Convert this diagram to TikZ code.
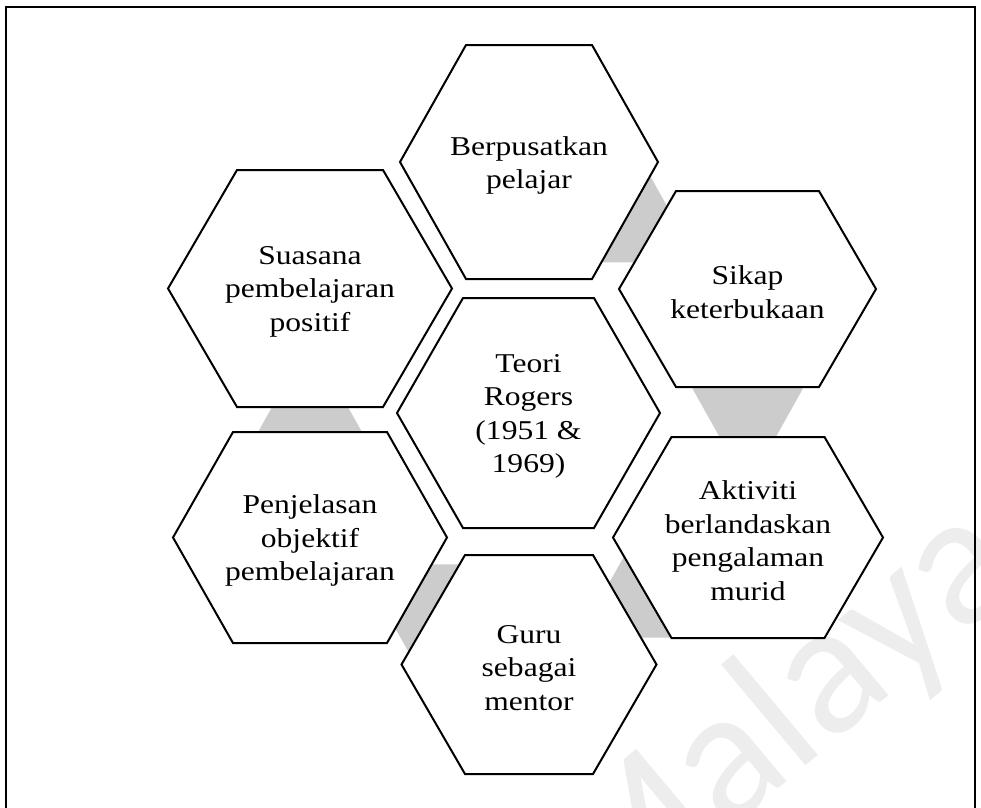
\documentclass[tikz,border=0pt]{standalone}
\usepackage{fontspec}
\setmainfont[FakeStretch=1.16]{Liberation Serif}
\newfontfamily\markfont{Carlito}
\usetikzlibrary{calc}

% hexagon outline around a coordinate: half width, half top edge, half height
\newcommand\hexpath[4]{($(#1)+(-#2,0)$) -- ($(#1)+(-#3,-#4)$) -- ($(#1)+(#3,-#4)$)
  -- ($(#1)+(#2,0)$) -- ($(#1)+(#3,#4)$) -- ($(#1)+(-#3,#4)$) -- cycle}

\begin{document}
\begin{tikzpicture}[x=0.75pt,y=-0.75pt,
  celltext/.style={align=center, inner sep=0pt,
    font=\fontsize{20.4}{25.1}\selectfont},
  cell/.style={draw=black, line width=1.5pt, fill=white, line join=miter},
  link/.style={fill=black!20, draw=none},
  frame/.style={draw=black, line width=1.9pt, line join=miter},
]
\useasboundingbox (0,0) rectangle (981,807);
\clip (0,0) rectangle (981,807);

% centres of the cells
\coordinate (ber-c) at (529,162);
\coordinate (sua-c) at (310,288.5);
\coordinate (sik-c) at (747.5,289);
\coordinate (teo-c) at (528.5,413);
\coordinate (pen-c) at (310,537.5);
\coordinate (akt-c) at (748,537.5);
\coordinate (gur-c) at (529,664.5);

% faint watermark behind everything
\node[anchor=base west, rotate=40, inner sep=0pt, text=black!7,
  font=\markfont\fontsize{142}{142}\selectfont] (mark) at (602,937) {Malaya};

% grey link hexagons, mostly hidden behind the cells
\coordinate (l1) at ($(ber-c)!75pt!(sik-c)$);
\coordinate (l2) at ($(sik-c)!75pt!(akt-c)$);
\coordinate (l3) at ($(akt-c)!75pt!(gur-c)$);
\coordinate (l4) at ($(gur-c)!75pt!(pen-c)$);
\coordinate (l5) at ($(pen-c)!75pt!(sua-c)$);
\foreach \l in {l1,l2,l3,l4,l5}
  \path[link] \hexpath{\l}{55}{27}{50};

% the cells
\path[cell] \hexpath{ber-c}{129}{63}{117};
\path[cell] \hexpath{sua-c}{142}{73}{118.5};
\path[cell] \hexpath{sik-c}{128.5}{71.5}{98};
\path[cell] \hexpath{teo-c}{131.5}{65.5}{115};
\path[cell] \hexpath{pen-c}{137}{77}{105.5};
\path[cell] \hexpath{akt-c}{135}{76.5}{100.5};
\path[cell] \hexpath{gur-c}{127.5}{64}{109.5};

% labels
\node[celltext] (ber) at ([yshift=-2.5pt]ber-c) {Berpusatkan\\pelajar};
\node[celltext] (sua) at ([yshift=-2.5pt]sua-c) {Suasana\\pembelajaran\\positif};
\node[celltext] (sik) at ([yshift=-2.5pt]sik-c) {Sikap\\keterbukaan};
\node[celltext] (teo) at ([yshift=-2.5pt]teo-c) {Teori\\Rogers\\(1951 \&\\1969)};
\node[celltext] (pen) at ([yshift=-2.5pt]pen-c) {Penjelasan\\objektif\\pembelajaran};
\node[celltext] (akt) at ([yshift=-2.5pt]akt-c) {Aktiviti\\berlandaskan\\pengalaman\\murid};
\node[celltext] (gur) at ([yshift=-2.5pt]gur-c) {Guru\\sebagai\\mentor};

% outer frame, open at the bottom edge of the page
\path[frame] (6,830) -- (6,7) -- (975,7) -- (975,830);
\end{tikzpicture}
\end{document}
